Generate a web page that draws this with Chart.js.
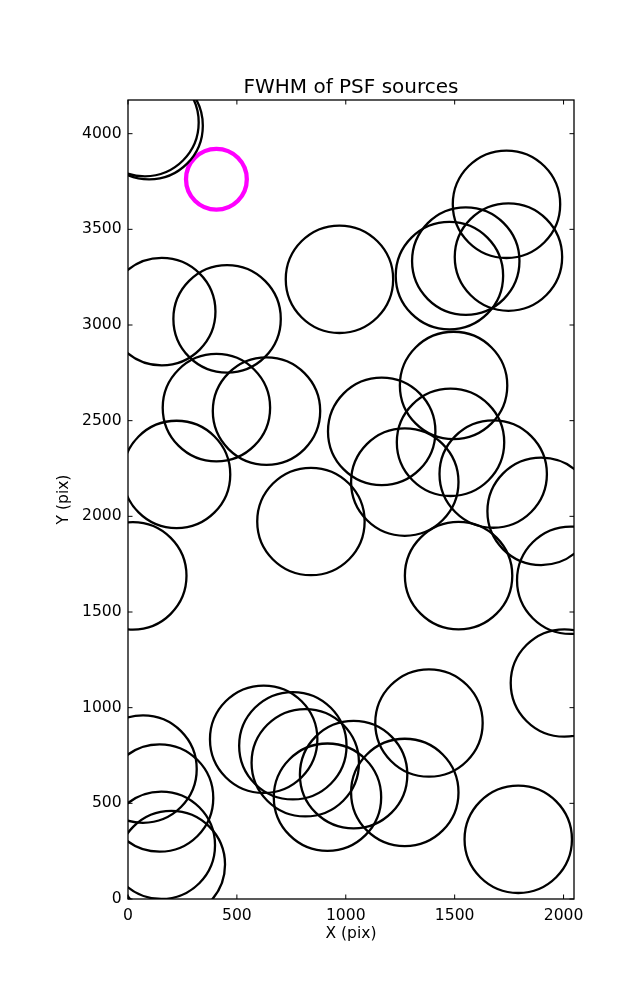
<!DOCTYPE html>
<html><head><meta charset="utf-8">
<script src="https://cdn.jsdelivr.net/npm/chart.js@4/dist/chart.umd.min.js"></script>
<style>html,body{margin:0;padding:0;background:#fff;}canvas{display:block;}</style>
</head><body>
<canvas id="c" width="637" height="1000"></canvas>
<script>
const titleText = 'FWHM of PSF sources';
const xLabel = 'X (pix)';
const yLabel = 'Y (pix)';
const xTicks = [0, 500, 1000, 1500, 2000];
const yTicks = [0, 500, 1000, 1500, 2000, 2500, 3000, 3500, 4000];
const xRange = [0, 2048];
const yRange = [0, 4176];

// PSF source centres (pixel coordinates on the detector)
const sourceX = [97, 78, 155, 455, 971, 1738, 1551, 1747, 1476, 1495,
                 406, 636, 223, 840, 22, 1165, 1481, 1271, 1677, 1897,
                 1518, 2033, 2004, 1382, 623, 757, 814, 1036, 916, 1271,
                 69, 145, 153, 199, 1792];
const sourceY = [4042, 4058, 3070, 3032, 3239, 3631, 3334, 3355, 3258, 2684,
                 2568, 2550, 2219, 1973, 1689, 2444, 2387, 2179, 2221, 2026,
                 1690, 1666, 1129, 920, 835, 801, 712, 650, 532, 557,
                 679, 528, 281, 180, 312];
// highlighted source
const highlightX = [406];
const highlightY = [3762];

const toPoints = (xs, ys) => xs.map((v, i) => ({x: v, y: ys[i]}));
const FONT = 'DejaVu Sans';

const frame = {
  id: 'frame',
  afterDatasetsDraw(chart) {
    const {ctx, chartArea: a, scales: {x, y}} = chart;
    const L = 4.5;
    ctx.save();
    ctx.strokeStyle = '#000';
    ctx.lineWidth = 1;
    ctx.beginPath();
    x.ticks.forEach(t => {
      const p = x.getPixelForValue(t.value);
      ctx.moveTo(p, a.bottom); ctx.lineTo(p, a.bottom - L);
      ctx.moveTo(p, a.top); ctx.lineTo(p, a.top + L);
    });
    y.ticks.forEach(t => {
      const p = y.getPixelForValue(t.value);
      ctx.moveTo(a.left, p); ctx.lineTo(a.left + L, p);
      ctx.moveTo(a.right, p); ctx.lineTo(a.right - L, p);
    });
    ctx.stroke();
    ctx.lineWidth = 1.3;
    ctx.strokeRect(a.left, a.top, a.right - a.left, a.bottom - a.top);
    ctx.restore();
  }
};

new Chart(document.getElementById('c'), {
  type: 'scatter',
  data: {
    datasets: [
      {
        label: 'sources',
        data: toPoints(sourceX, sourceY),
        pointStyle: 'circle',
        pointRadius: 53.7,
        pointHoverRadius: 53.7,
        borderColor: '#000',
        backgroundColor: 'rgba(0,0,0,0)',
        borderWidth: 2.3,
        clip: 0
      },
      {
        label: 'highlight',
        data: toPoints(highlightX, highlightY),
        pointStyle: 'circle',
        pointRadius: 30.4,
        pointHoverRadius: 30.4,
        borderColor: '#ff00ff',
        backgroundColor: 'rgba(0,0,0,0)',
        borderWidth: 4.3,
        clip: 0
      }
    ]
  },
  options: {
    responsive: false,
    animation: false,
    devicePixelRatio: 1,
    events: [],
    layout: {padding: {left: 0, right: 63, top: 0, bottom: 0}},
    plugins: {
      legend: {display: false},
      tooltip: {enabled: false},
      title: {
        display: true,
        text: titleText,
        fullSize: false,
        color: '#000',
        font: {family: FONT, size: 20, weight: 'normal', lineHeight: 1.2},
        padding: {top: 75.4, bottom: 0.6}
      }
    },
    scales: {
      x: {
        type: 'linear',
        min: xRange[0], max: xRange[1],
        afterBuildTicks: s => { s.ticks = xTicks.map(v => ({value: v})); },
        afterFit: s => { s.height = 101; s.paddingLeft = 0; s.paddingRight = 0; },
        grid: {display: false, drawTicks: false},
        border: {display: false},
        ticks: {color: '#000', padding: 8, maxRotation: 0, autoSkip: false,
                font: {family: FONT, size: 15.6}, callback: v => String(v)},
        title: {display: true, text: xLabel, color: '#000',
                font: {family: FONT, size: 15.5, lineHeight: 1.2},
                padding: {top: 0, bottom: 56.4}}
      },
      y: {
        type: 'linear',
        min: yRange[0], max: yRange[1],
        afterBuildTicks: s => { s.ticks = yTicks.map(v => ({value: v})); },
        afterFit: s => { s.width = 128; s.paddingTop = 0; s.paddingBottom = 0; },
        grid: {display: false, drawTicks: false},
        border: {display: false},
        ticks: {color: '#000', padding: 6.3, autoSkip: false,
                font: {family: FONT, size: 15.6}, callback: v => String(v)},
        title: {display: true, text: yLabel, color: '#000',
                font: {family: FONT, size: 15.5, lineHeight: 1.2},
                padding: {top: 54.7, bottom: 0}}
      }
    }
  },
  plugins: [frame]
});
</script>
</body></html>
